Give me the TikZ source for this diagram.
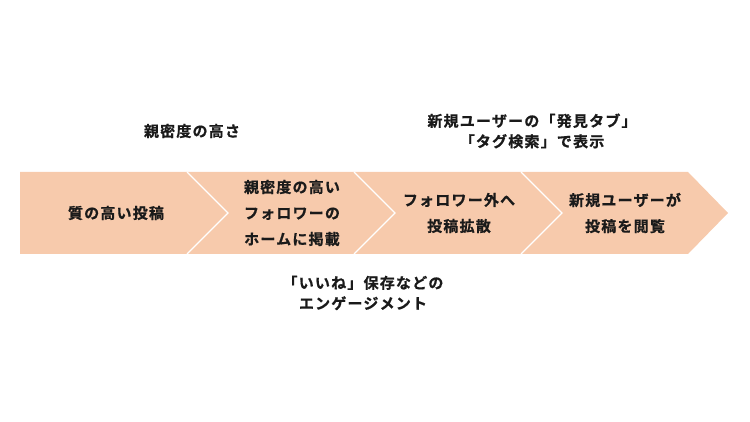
\documentclass[tikz,border=0pt]{standalone}
\usepackage{fontspec}
\setmainfont{Noto Sans CJK JP}[LetterSpace=8, BoldFont={Noto Sans CJK JP Bold}, BoldFeatures={FakeBold=0.8}]
\definecolor{peach}{RGB}{247,202,172}
\definecolor{ink}{RGB}{26,26,26}

\begin{document}
\begin{tikzpicture}[x=1pt,y=-1pt]
\tikzset{lbl/.style={font=\bfseries\fontsize{15}{26}\selectfont, align=center, text=ink, inner sep=0pt},
  note/.style={lbl, font=\bfseries\fontsize{15}{20.5}\selectfont}}
\useasboundingbox (0,0) rectangle (750,422);

% band of arrows
\fill[peach] (20,172) -- (688,172) -- (728,213) -- (688,254) -- (20,254) -- cycle;
\foreach \x in {187,354,521}
\draw[white, line width=1.2pt] (\x,172) -- (\x+41,213) -- (\x,254);

% steps
\node[lbl] (step1) at (116,213) {質の高い投稿};
\node[lbl] (step2) at (292,213) {親密度の高い\\フォロワーの\\ホームに掲載};
\node[lbl] (step3) at (459,213) {フォロワー外へ\\投稿拡散};
\node[lbl] (step4) at (625,213) {新規ユーザーが\\投稿を閲覧};

% notes
\node[note] (note1) at (192,131) {親密度の高さ};
\node[note] (note2) at (532,131) {新規ユーザーの「発見タブ」\\「タグ検索」で表示};
\node[note] (note3) at (363,293) {「いいね」保存などの\\エンゲージメント};
\end{tikzpicture}
\end{document}
